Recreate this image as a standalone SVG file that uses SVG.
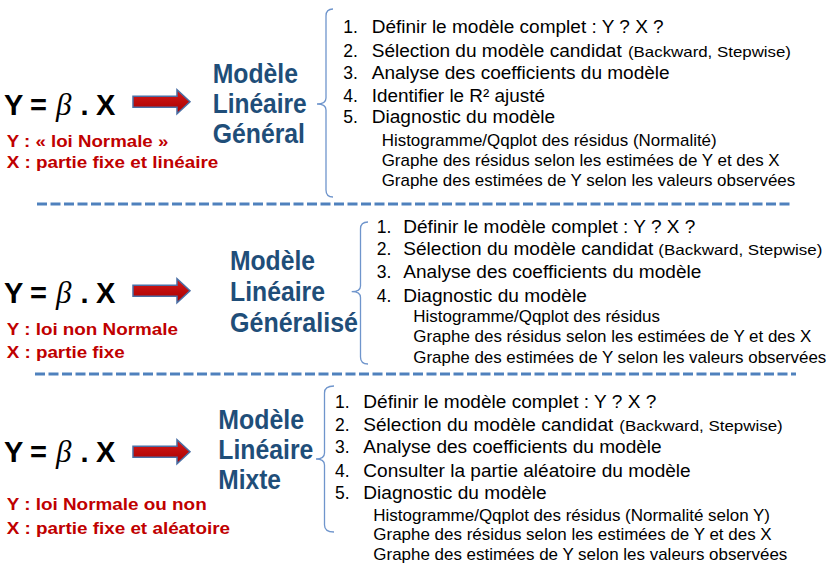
<svg xmlns="http://www.w3.org/2000/svg" width="827" height="585" viewBox="0 0 827 585">
<defs>
<style>
text{font-family:"Liberation Sans",Arial,sans-serif;}
.main{font-size:17.5px;fill:#000}
.sub{font-size:17px;fill:#000}
.par{font-size:15px;fill:#000}
.red{font-size:16.5px;font-weight:bold;fill:#C00000}
.title{font-size:27px;font-weight:bold;fill:#1F4E79}
.formula{font-size:29px;font-weight:bold;fill:#000}
.beta{font-family:"Liberation Serif","Times New Roman",serif;font-style:italic;font-weight:normal;font-size:31px}
.brace{fill:none;stroke:#6F95CC;stroke-width:1.3}
.sep{stroke:#4F81BD;stroke-width:3;stroke-dasharray:10 3.5;fill:none}
.arrow{fill:url(#redg);stroke:#4A6FA5;stroke-width:1.5;stroke-linejoin:miter}
</style>
<linearGradient id="redg" x1="0" y1="0" x2="0" y2="1">
<stop offset="0" stop-color="#D41A1A"/>
<stop offset="1" stop-color="#A80000"/>
</linearGradient>
<path id="arr" d="M0,-5.5 H44 V-12 L57,0 L44,12 V5.5 H0 Z"/>
</defs>
<rect width="827" height="585" fill="#fff"/>

<!-- Section 1 -->
<g id="formula1">
<text class="formula" y="114.5"><tspan x="4">Y</tspan><tspan x="30">=</tspan><tspan class="beta" x="56">β</tspan><tspan x="80.5">.</tspan><tspan x="96">X</tspan></text>
<text class="red" x="6.7" y="146.5" textLength="161.6" lengthAdjust="spacingAndGlyphs">Y : « loi Normale »</text>
<text class="red" x="6.7" y="168.3" textLength="211.6" lengthAdjust="spacingAndGlyphs">X : partie fixe et linéaire</text>
</g>
<g id="title1">
<text class="title" x="212.7" y="83" textLength="85.3" lengthAdjust="spacingAndGlyphs">Modèle</text>
<text class="title" x="212.7" y="113" textLength="94" lengthAdjust="spacingAndGlyphs">Linéaire</text>
<text class="title" x="212.7" y="143" textLength="92.3" lengthAdjust="spacingAndGlyphs">Général</text>
</g>
<g id="list1">
<text class="main" x="343.3" y="33.3">1.</text>
<text class="main" x="371.7" y="33.3" textLength="292" lengthAdjust="spacingAndGlyphs">Définir le modèle complet : Y ? X ?</text>
<text class="main" x="343.3" y="56.7">2.</text>
<text class="main" x="371.7" y="56.7" textLength="250" lengthAdjust="spacingAndGlyphs">Sélection du modèle candidat</text>
<text class="par" x="628" y="56.7" textLength="163" lengthAdjust="spacingAndGlyphs">(Backward, Stepwise)</text>
<text class="main" x="343.3" y="79.3">3.</text>
<text class="main" x="371.7" y="79.3" textLength="298" lengthAdjust="spacingAndGlyphs">Analyse des coefficients du modèle</text>
<text class="main" x="343.3" y="101.7">4.</text>
<text class="main" x="371.7" y="101.7" textLength="173.3" lengthAdjust="spacingAndGlyphs">Identifier le R² ajusté</text>
<text class="main" x="343.3" y="123.3">5.</text>
<text class="main" x="371.7" y="123.3" textLength="183.5" lengthAdjust="spacingAndGlyphs">Diagnostic du modèle</text>
<text class="sub" x="381.7" y="145.7" textLength="335" lengthAdjust="spacingAndGlyphs">Histogramme/Qqplot des résidus (Normalité)</text>
<text class="sub" x="381.7" y="166" textLength="398" lengthAdjust="spacingAndGlyphs">Graphe des résidus selon les estimées de Y et des X</text>
<text class="sub" x="381.7" y="186.3" textLength="413.5" lengthAdjust="spacingAndGlyphs">Graphe des estimées de Y selon les valeurs observées</text>
</g>

<!-- Section 2 -->
<g id="formula2">
<text class="formula" y="303.3"><tspan x="4">Y</tspan><tspan x="30">=</tspan><tspan class="beta" x="56">β</tspan><tspan x="80.5">.</tspan><tspan x="96">X</tspan></text>
<text class="red" x="6.7" y="335" textLength="171.3" lengthAdjust="spacingAndGlyphs">Y : loi non Normale</text>
<text class="red" x="6.7" y="358.3" textLength="118" lengthAdjust="spacingAndGlyphs">X : partie fixe</text>
</g>
<g id="title2">
<text class="title" x="230" y="270" textLength="85" lengthAdjust="spacingAndGlyphs">Modèle</text>
<text class="title" x="230" y="301" textLength="95" lengthAdjust="spacingAndGlyphs">Linéaire</text>
<text class="title" x="230" y="331.5" textLength="128" lengthAdjust="spacingAndGlyphs">Généralisé</text>
</g>
<g id="list2">
<text class="main" x="376.7" y="233.3">1.</text>
<text class="main" x="403.3" y="233.3" textLength="292" lengthAdjust="spacingAndGlyphs">Définir le modèle complet : Y ? X ?</text>
<text class="main" x="376.7" y="255">2.</text>
<text class="main" x="403.3" y="255" textLength="250" lengthAdjust="spacingAndGlyphs">Sélection du modèle candidat</text>
<text class="par" x="658.3" y="255" textLength="164" lengthAdjust="spacingAndGlyphs">(Backward, Stepwise)</text>
<text class="main" x="376.7" y="278.3">3.</text>
<text class="main" x="403.3" y="278.3" textLength="298" lengthAdjust="spacingAndGlyphs">Analyse des coefficients du modèle</text>
<text class="main" x="376.7" y="301.7">4.</text>
<text class="main" x="403.3" y="301.7" textLength="183.5" lengthAdjust="spacingAndGlyphs">Diagnostic du modèle</text>
<text class="sub" x="413.3" y="322.3" textLength="246.7" lengthAdjust="spacingAndGlyphs">Histogramme/Qqplot des résidus</text>
<text class="sub" x="413.3" y="342.3" textLength="398" lengthAdjust="spacingAndGlyphs">Graphe des résidus selon les estimées de Y et des X</text>
<text class="sub" x="413.3" y="363.3" textLength="413" lengthAdjust="spacingAndGlyphs">Graphe des estimées de Y selon les valeurs observées</text>
</g>

<!-- Section 3 -->
<g id="formula3">
<text class="formula" y="461.7"><tspan x="4">Y</tspan><tspan x="30">=</tspan><tspan class="beta" x="56">β</tspan><tspan x="80.5">.</tspan><tspan x="96">X</tspan></text>
<text class="red" x="6.7" y="510" textLength="200" lengthAdjust="spacingAndGlyphs">Y : loi Normale ou non</text>
<text class="red" x="6.7" y="534" textLength="223.3" lengthAdjust="spacingAndGlyphs">X : partie fixe et aléatoire</text>
</g>
<g id="title3">
<text class="title" x="218.3" y="429" textLength="85.7" lengthAdjust="spacingAndGlyphs">Modèle</text>
<text class="title" x="218.3" y="459" textLength="95" lengthAdjust="spacingAndGlyphs">Linéaire</text>
<text class="title" x="218.3" y="489" textLength="62.7" lengthAdjust="spacingAndGlyphs">Mixte</text>
</g>
<g id="list3">
<text class="main" x="335" y="408.3">1.</text>
<text class="main" x="363.3" y="408.3" textLength="293" lengthAdjust="spacingAndGlyphs">Définir le modèle complet : Y ? X ?</text>
<text class="main" x="335" y="431">2.</text>
<text class="main" x="363.3" y="431" textLength="250" lengthAdjust="spacingAndGlyphs">Sélection du modèle candidat</text>
<text class="par" x="619.3" y="431" textLength="163.4" lengthAdjust="spacingAndGlyphs">(Backward, Stepwise)</text>
<text class="main" x="335" y="453.3">3.</text>
<text class="main" x="363.3" y="453.3" textLength="298.4" lengthAdjust="spacingAndGlyphs">Analyse des coefficients du modèle</text>
<text class="main" x="335" y="476.7">4.</text>
<text class="main" x="363.3" y="476.7" textLength="327.4" lengthAdjust="spacingAndGlyphs">Consulter la partie aléatoire du modèle</text>
<text class="main" x="335" y="499.3">5.</text>
<text class="main" x="363.3" y="499.3" textLength="183.4" lengthAdjust="spacingAndGlyphs">Diagnostic du modèle</text>
<text class="sub" x="373.3" y="520.7" textLength="396.7" lengthAdjust="spacingAndGlyphs">Histogramme/Qqplot des résidus (Normalité selon Y)</text>
<text class="sub" x="373.3" y="540" textLength="398.4" lengthAdjust="spacingAndGlyphs">Graphe des résidus selon les estimées de Y et des X</text>
<text class="sub" x="373.3" y="560" textLength="414" lengthAdjust="spacingAndGlyphs">Graphe des estimées de Y selon les valeurs observées</text>
</g>

<!-- Separators -->
<g id="separators">
<line class="sep" x1="37" y1="204" x2="790" y2="204"/>
<line class="sep" x1="35" y1="374" x2="796" y2="374"/>
</g>

<!-- Connectors: arrows and braces -->
<g id="connectors">
<use href="#arr" class="arrow" transform="translate(133,101.7)"/>
<use href="#arr" class="arrow" transform="translate(133,290.7)"/>
<use href="#arr" class="arrow" transform="translate(133,451.7)"/>
<path class="brace" d="M333,9 Q326,9 326,16 V98 Q326,104 317,104 Q326,104 326,110 V190 Q326,197 333,197"/>
<path class="brace" d="M368,222 Q360.5,222 360.5,229 V286 Q360.5,291.7 351.7,291.7 Q360.5,291.7 360.5,297.5 V357 Q360.5,364 368,364"/>
<path class="brace" d="M334,386 Q324.5,386 324.5,393 V453 Q324.5,459 316,459 Q324.5,459 324.5,465 V525 Q324.5,532 334,532"/>
</g>
</svg>
